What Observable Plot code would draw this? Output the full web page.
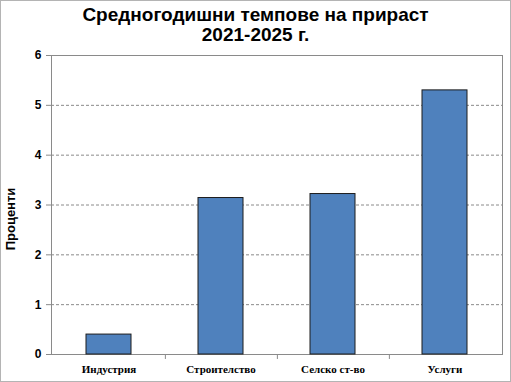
<!DOCTYPE html>
<html><head><meta charset="utf-8">
<script src="https://cdn.jsdelivr.net/npm/d3@7"></script>
<script src="https://cdn.jsdelivr.net/npm/@observablehq/plot@0.6"></script>
<style>
body{margin:0;background:#fff;}
#wrap{position:relative;width:511px;height:382px;overflow:hidden;background:#fff;}
#title{height:48px;text-align:center;font-family:"Liberation Sans",Arial,sans-serif;font-weight:bold;font-size:19px;line-height:20px;padding-top:5px;box-sizing:border-box;color:#000;}
#border{position:absolute;left:0;top:0;width:511px;height:382px;box-sizing:border-box;border:1px solid #b4b4b4;pointer-events:none;}
</style></head>
<body>
<div id="wrap">
<div id="title">Средногодишни темпове на прираст<br>2021-2025 г.</div>
<div id="chart"></div>
<div id="border"></div>
</div>
<script>
const categories = ["Индустрия", "Строителство", "Селско ст-во", "Услуги"];
const values = [0.4, 3.14, 3.22, 5.3];
const yTicks = [0, 1, 2, 3, 4, 5, 6];
const gridTicks = [1, 2, 3, 4, 5];
const yLabel = "Проценти";

const data = categories.map((c, i) => ({cat: c, v: values[i]}));
const W = 511, H = 334, mL = 51, mR = 9;
const step = (W - mL - mR) / categories.length;

const chart = Plot.plot({
  width: W, height: H,
  marginTop: 7, marginBottom: 28, marginLeft: mL, marginRight: mR,
  style: {background: "transparent", overflow: "visible"},
  x: {domain: categories, paddingInner: 0.6, paddingOuter: 0.3, axis: null},
  y: {domain: [0, 6], axis: null},
  marks: [
    Plot.ruleY(gridTicks, {stroke: "#8a8a8a", strokeDasharray: "3,2", strokeWidth: 1}),
    Plot.frame({stroke: "#8a8a8a", strokeWidth: 1}),
    Plot.barY(data, {x: "cat", y: "v", fill: "#4f81bd", stroke: "#1c1c1c", strokeWidth: 1}),
    Plot.axisY({ticks: yTicks, tickSize: 5, tickPadding: 5, tickFormat: d => String(d), stroke: "#8a8a8a", fill: "#000",
      fontSize: 12, fontWeight: "bold", fontFamily: "Liberation Sans, Arial, sans-serif", label: null}),
    Plot.ruleX(categories.slice(0, 3), {x: d => d, dx: step / 2, y1: 0, y2: -0.1, stroke: "#8a8a8a"}),
    Plot.text(categories, {x: d => d, y: 0, dy: 15, text: d => d, fontSize: 11, fontWeight: "bold",
      fontFamily: "Liberation Serif, Times New Roman, serif", fill: "#000"}),
    Plot.text([yLabel], {frameAnchor: "left", textAnchor: "middle", dx: -41, dy: 14, rotate: -90, text: d => d, fontSize: 13, fontWeight: "bold",
      fontFamily: "Liberation Sans, Arial, sans-serif", fill: "#000"})
  ]
});
document.getElementById("chart").appendChild(chart);
</script>
</body></html>
